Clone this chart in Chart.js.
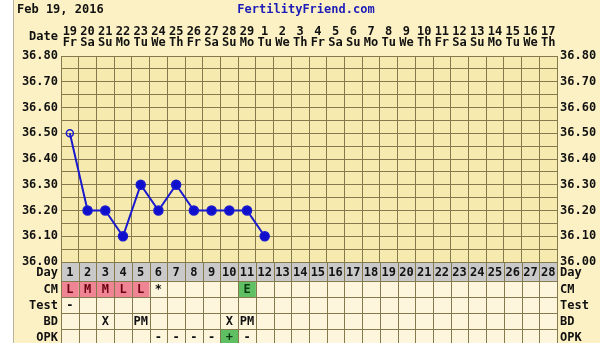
<!DOCTYPE html>
<html>
<head>
<meta charset="utf-8">
<script src="https://cdn.jsdelivr.net/npm/chart.js@4/dist/chart.umd.min.js"></script>
<style>
  html, body { margin: 0; padding: 0; background: #fff; }
  #wrap { width: 600px; height: 343px; }
</style>
</head>
<body>
<div id="wrap"><canvas id="bbt"></canvas></div>
<script>
// chart data
const dayNums = ["19","20","21","22","23","24","25","26","27","28","29","1","2","3","4","5","6","7","8","9","10","11","12","13","14","15","16","17"];
const weekdays = ["Fr","Sa","Su","Mo","Tu","We","Th","Fr","Sa","Su","Mo","Tu","We","Th","Fr","Sa","Su","Mo","Tu","We","Th","Fr","Sa","Su","Mo","Tu","We","Th"];
const cycleDays = ["1","2","3","4","5","6","7","8","9","10","11","12","13","14","15","16","17","18","19","20","21","22","23","24","25","26","27","28"];
const temps = [36.5, 36.2, 36.2, 36.1, 36.3, 36.2, 36.3, 36.2, 36.2, 36.2, 36.2, 36.1];
const tempTicks = [36.0, 36.1, 36.2, 36.3, 36.4, 36.5, 36.6, 36.7, 36.8];
const cmRow   = ["L","M","M","L","L","*","","","","","E"];
const testRow = ["-"];
const bdRow   = ["","","X","","PM","","","","","X","PM"];
const opkRow  = ["","","","","","-","-","-","-","+","-"];

const FONT = "bold 12px 'DejaVu Sans Mono', monospace";
const GRID = "#857a4e";

const tableRows = [
  { label: "Day",  cells: cycleDays, h: 19, bg: "#c9c9c9" },
  { label: "CM",   cells: cmRow,   h: 16 },
  { label: "Test", cells: testRow, h: 16 },
  { label: "BD",   cells: bdRow,   h: 16 },
  { label: "OPK",  cells: opkRow,  h: 16 }
];

function cellColor(rowLabel, v) {
  if (rowLabel === "CM" && (v === "L" || v === "M")) return "#ef8594";
  if (rowLabel === "CM" && v === "E") return "#5fc063";
  if (rowLabel === "OPK" && v === "+") return "#5fc063";
  return null;
}

const chartFrame = {
  id: "chartFrame",
  beforeDraw(chart) {
    const { ctx, chartArea: a } = chart;
    ctx.save();
    ctx.fillStyle = "#fff";
    ctx.fillRect(0, 0, 600, 343);
    ctx.fillStyle = "#fcf1c4";
    ctx.fillRect(14, 0, 586, 343);
    ctx.strokeStyle = "#b9b39a";
    ctx.beginPath(); ctx.moveTo(13.5, 0); ctx.lineTo(13.5, 343); ctx.stroke();
    ctx.fillStyle = "#f7eaae";
    ctx.fillRect(a.left, a.top, a.right - a.left, a.bottom - a.top);

    ctx.font = FONT;
    ctx.textBaseline = "middle";
    ctx.fillStyle = "#111";
    ctx.textAlign = "left";
    ctx.fillText("Feb 19, 2016", 17, 10);
    ctx.fillStyle = "#1c1cb8";
    ctx.textAlign = "center";
    ctx.fillText("FertilityFriend.com", 306, 10);
    ctx.fillStyle = "#111";
    ctx.textAlign = "right";
    ctx.fillText("Date", 58, 37);
    ctx.restore();
  },
  afterDraw(chart) {
    const { ctx, chartArea: a } = chart;
    const x = chart.scales.x;
    const colW = (a.right - a.left) / cycleDays.length;
    ctx.save();
    ctx.font = FONT;
    ctx.textBaseline = "middle";
    let y = a.bottom;
    tableRows.forEach((row) => {
      // row background
      ctx.fillStyle = row.bg || "#fdf5dc";
      ctx.fillRect(a.left, y, a.right - a.left, row.h);
      cycleDays.forEach((d, i) => {
        const cx = x.getPixelForValue(i);
        const v = row.cells[i] || "";
        const c = cellColor(row.label, v);
        if (c) {
          ctx.fillStyle = c;
          ctx.fillRect(cx - colW / 2, y, colW, row.h);
        }
        if (v) {
          ctx.fillStyle = c === "#ef8594" ? "#6a0010" : (c ? "#0b3a10" : "#111");
          ctx.textAlign = "center";
          ctx.fillText(v, cx, y + row.h / 2 + 1);
        }
      });
      // side labels
      ctx.fillStyle = "#111";
      ctx.textAlign = "right";
      ctx.fillText(row.label, 58, y + row.h / 2 + 1);
      ctx.textAlign = "left";
      ctx.fillText(row.label, 560, y + row.h / 2 + 1);
      // cell borders
      ctx.strokeStyle = GRID;
      ctx.lineWidth = 1;
      ctx.beginPath();
      ctx.moveTo(a.left, Math.round(y) + 0.5); ctx.lineTo(a.right, Math.round(y) + 0.5);
      for (let i = 0; i <= cycleDays.length; i++) {
        const bx = Math.round(a.left + i * colW) + 0.5;
        ctx.moveTo(bx, y); ctx.lineTo(bx, y + row.h);
      }
      ctx.stroke();
      y += row.h;
    });
    ctx.restore();
  }
};

const tickLabel = (v) => {
  const n = Math.round(v * 100);
  return n % 10 === 0 ? (n / 100).toFixed(2) : "";
};

new Chart(document.getElementById("bbt"), {
  type: "line",
  data: {
    labels: dayNums.map((d, i) => [d, weekdays[i]]),
    datasets: [{
      data: temps,
      borderColor: "#1a1ad0",
      borderWidth: 2,
      pointRadius: (c) => (c.dataIndex === 0 ? 3.5 : 4.5),
      pointBorderWidth: 1.5,
      pointBackgroundColor: (c) => (c.dataIndex === 0 ? "rgba(0,0,0,0)" : "#1010cc"),
      pointBorderColor: "#1a1ad0",
      tension: 0
    }]
  },
  options: {
    responsive: true,
    maintainAspectRatio: false,
    animation: false,
    events: [],
    layout: { padding: { left: 0, right: 0, top: 0, bottom: 81 } },
    plugins: { legend: { display: false }, tooltip: { enabled: false } },
    scales: {
      x: {
        position: "top",
        offset: true,
        grid: { offset: true, color: GRID, drawTicks: false },
        border: { color: GRID },
        ticks: { font: { family: "'DejaVu Sans Mono', monospace", size: 12, weight: "bold", lineHeight: 0.95 }, color: "#111", padding: 7, maxRotation: 0, autoSkip: false },
        afterFit: (s) => { s.height = 56; }
      },
      y: {
        position: "left",
        min: 36.0,
        max: 36.8,
        ticks: { stepSize: 0.05, autoSkip: false, callback: tickLabel, padding: 3, color: "#111", font: { family: "'DejaVu Sans Mono', monospace", size: 12, weight: "bold" } },
        grid: { color: GRID, drawTicks: false },
        border: { color: GRID },
        afterFit: (s) => { s.width = 61; }
      },
      y2: {
        position: "right",
        min: 36.0,
        max: 36.8,
        ticks: { stepSize: 0.05, autoSkip: false, callback: tickLabel, padding: 3, color: "#111", font: { family: "'DejaVu Sans Mono', monospace", size: 12, weight: "bold" } },
        grid: { display: false, drawTicks: false },
        border: { color: GRID },
        afterFit: (s) => { s.width = 43; }
      }
    }
  },
  plugins: [chartFrame]
});
</script>
</body>
</html>
